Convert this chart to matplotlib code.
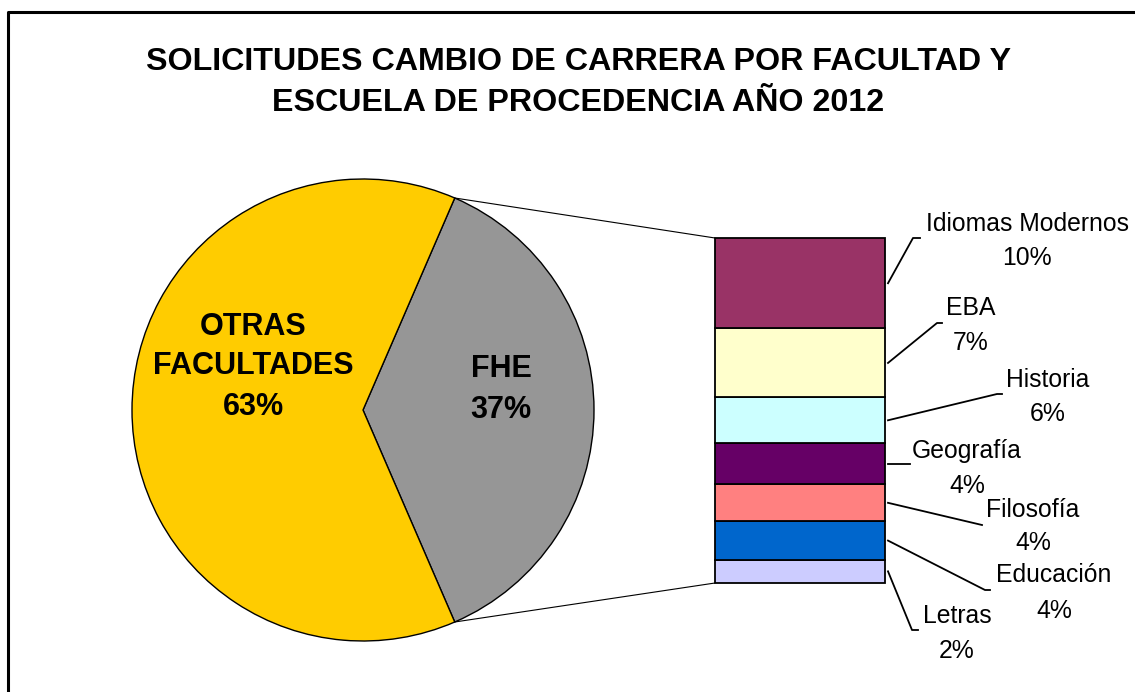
import matplotlib
matplotlib.use('Agg')
import matplotlib.pyplot as plt
from matplotlib.patches import ConnectionPatch
import numpy as np

plt.rcParams['font.family'] = ['Liberation Sans', 'DejaVu Sans']

# pie data
pie_names = ['FHE', 'OTRAS\nFACULTADES']
pie_values = [37, 63]
pie_pct = ['37%', '63%']
pie_colors = ['#969696', '#FFCC00']

# breakdown of FHE (top to bottom)
bar_names = ['Idiomas Modernos', 'EBA', 'Historia', 'Geografía', 'Filosofía', 'Educación', 'Letras']
bar_values = [9.7, 7.4, 4.9, 4.4, 4.0, 4.1, 2.5]
bar_pct = ['10%', '7%', '6%', '4%', '4%', '4%', '2%']
bar_colors = ['#993366', '#FFFFCC', '#CCFFFF', '#660066', '#FF8080', '#0066CC', '#CCCCFF']

title_lines = ['SOLICITUDES CAMBIO DE CARRERA POR FACULTAD Y',
               'ESCUELA DE PROCEDENCIA AÑO 2012']

W, H = 1135, 692
fig = plt.figure(figsize=(W / 100, H / 100), dpi=100)

# overlay axes in pixel coords (y down) for frame, title, labels
bg = fig.add_axes([0, 0, 1, 1])
bg.set_xlim(0, W)
bg.set_ylim(H, 0)
bg.axis('off')
bg.set_zorder(5)


def fig_box(x0, y0, x1, y1):
    return [x0 / W, 1 - y1 / H, (x1 - x0) / W, (y1 - y0) / H]


# outer frame (only left and top visible)
bg.plot([8, 8, W + 10], [H + 10, 12, 12], color='black', lw=2.2, solid_capstyle='butt')

# title
bg.text(578, 70, title_lines[0], ha='center', va='baseline', fontsize=23.2, fontweight='bold')
bg.text(578, 111, title_lines[1], ha='center', va='baseline', fontsize=23.2, fontweight='bold')

# pie
cx, cy, r = 363, 410, 231
ax_pie = fig.add_axes(fig_box(cx - r, cy - r, cx + r, cy + r))
start = -180 * pie_values[0] / sum(pie_values)
wedges, _ = ax_pie.pie(pie_values, colors=pie_colors, startangle=start,
                       wedgeprops=dict(edgecolor='black', linewidth=1.0))
for w in wedges:
    w.set_clip_on(False)
ax_pie.set_xlim(-1, 1)
ax_pie.set_ylim(-1, 1)
ax_pie.axis('off')

# pie labels (baselines in px)
for line, y in zip([pie_names[0], pie_pct[0]], [377, 418]):
    bg.text(501, y, line, ha='center', va='baseline', fontsize=22, fontweight='bold')
for line, y in zip(pie_names[1].split('\n') + [pie_pct[1]], [335, 374, 415]):
    bg.text(253, y, line, ha='center', va='baseline', fontsize=22, fontweight='bold')

# stacked bar
ax_bar = fig.add_axes(fig_box(715, 238, 885, 583))
total = sum(bar_values)
ax_bar.set_xlim(-0.5, 0.5)
ax_bar.set_ylim(0, total)
ax_bar.axis('off')
bottom = 0
mids = {}
for name, v, c in zip(bar_names[::-1], bar_values[::-1], bar_colors[::-1]):
    ax_bar.bar(0, v, width=1, bottom=bottom, color=c, edgecolor='black',
               linewidth=1.3, clip_on=False)
    mids[name] = bottom + v / 2
    bottom += v

# connector lines pie -> bar
t1 = np.deg2rad(wedges[0].theta1)
t2 = np.deg2rad(wedges[0].theta2)
for ang, yb in [(t2, total), (t1, 0)]:
    con = ConnectionPatch(xyA=(np.cos(ang), np.sin(ang)), coordsA=ax_pie.transData,
                          xyB=(-0.5, yb), coordsB=ax_bar.transData,
                          color='black', linewidth=0.8)
    fig.add_artist(con)

# leader lines and labels for bar segments
elbows = [[(913, 238), (920, 238)],
          [(937, 323), (942, 323)],
          [(997, 394), (1002, 394)],
          [(910, None)],
          [(982, 525)],
          [(985, 590), (990, 590)],
          [(912, 630), (918, 630)]]
text_pos = [(1027, 231, 265), (971, 315, 350), (1048, 387, 421),
            (967, 458, 493), (1033, 517, 550), (1054, 582, 618), (957, 623, 658)]

inv = bg.transData.inverted()
for name, pct, elb, (tx, y1, y2) in zip(bar_names, bar_pct, elbows, text_pos):
    sx, sy = inv.transform(ax_bar.transData.transform((0.5, mids[name])))
    xs = [sx + 3] + [p[0] for p in elb]
    ys = [sy] + [sy if p[1] is None else p[1] for p in elb]
    bg.plot(xs, ys, color='black', lw=1.3)
    bg.text(tx, y1, name, ha='center', va='baseline', fontsize=17.8)
    bg.text(tx, y2, pct, ha='center', va='baseline', fontsize=17.8)

fig.savefig('out.png', dpi=100)
